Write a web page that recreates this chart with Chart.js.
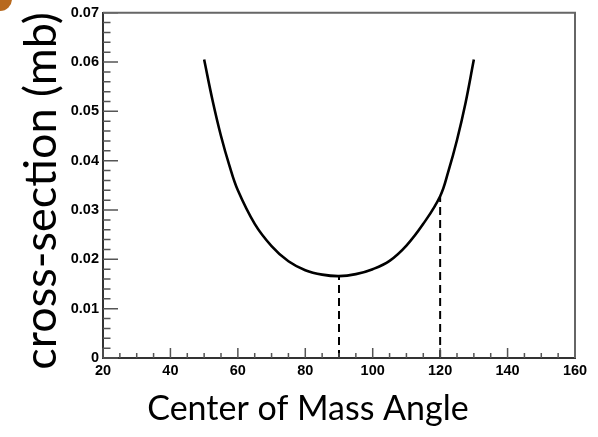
<!DOCTYPE html>
<html>
<head>
<meta charset="utf-8">
<script src="https://cdn.jsdelivr.net/npm/chart.js@4.4.0/dist/chart.umd.min.js"></script>
<style>
  body { margin: 0; background: #fff; }
  #wrap { position: relative; width: 598px; height: 437px; overflow: hidden; }
  #dot { position: absolute; left: -12px; top: -13px; width: 24px; height: 24px; border-radius: 50%; background: #b8691e; }
</style>
</head>
<body>
<div id="wrap">
  <canvas id="xsChart" width="598" height="437"></canvas>
  <div id="dot"></div>
</div>
<script>
// differential cross-section vs centre-of-mass angle
const angles = [50, 52.5, 55, 57.5, 60, 65, 70, 75, 80, 85, 90, 95, 100, 105, 110, 115, 120, 122.5, 125, 127.5, 130];
const crossSection = [0.0605, 0.0522, 0.0450, 0.0390, 0.0340, 0.0272, 0.0227, 0.0196, 0.0178, 0.0169, 0.0166,
                      0.0170, 0.0180, 0.0197, 0.0228, 0.0272, 0.0328, 0.0380, 0.0442, 0.0516, 0.0605];

// angles marked with a dashed drop line
const markAngles = [90, 120];
const markValues = [0.0166, 0.0328];

const xTickLabels = [20, 40, 60, 80, 100, 120, 140, 160];
const yTickLabels = [0, 0.01, 0.02, 0.03, 0.04, 0.05, 0.06, 0.07];

const isMajorX = v => xTickLabels.includes(v);
const isMajorY = v => yTickLabels.some(t => Math.abs(t - v) < 1e-6);

// inward tick marks, frame and axis titles
const frameTicks = {
    id: 'frameTicks',
    afterDraw(chart) {
        const c = chart.ctx;
        const a = chart.chartArea;
        const xs = chart.scales.x;
        const ys = chart.scales.y;
        c.save();
        c.strokeStyle = '#555';
        c.lineWidth = 1.5;
        c.beginPath();
        ys.ticks.forEach(t => {
            const py = ys.getPixelForValue(t.value);
            const len = isMajorY(t.value) ? 15 : 7.5;
            c.moveTo(a.left, py);
            c.lineTo(a.left + len, py);
        });
        xs.ticks.forEach(t => {
            const px = xs.getPixelForValue(t.value);
            const len = isMajorX(t.value) ? 10 : 5;
            c.moveTo(px, a.bottom);
            c.lineTo(px, a.bottom - len);
        });
        c.stroke();

        c.strokeStyle = '#666';
        c.lineWidth = 2;
        c.beginPath();
        c.moveTo(a.left, a.top);
        c.lineTo(a.right, a.top);
        c.lineTo(a.right, a.bottom);
        c.stroke();

        c.fillStyle = '#000';
        c.textAlign = 'center';
        c.textBaseline = 'alphabetic';
        c.font = '34px Lato';
        c.fillText('Center of Mass Angle', 308, 420);
        c.translate(56, 191);
        c.rotate(-Math.PI / 2);
        c.font = '45px Lato';
        c.fillText('cross-section (mb)', 0, 0);
        c.restore();
    }
};

const tickFont = { family: 'Liberation Sans', size: 14.5, weight: 'bold' };

new Chart(document.getElementById('xsChart'), {
    type: 'scatter',
    data: {
        datasets: [
            {
                data: angles.map((a, i) => ({ x: a, y: crossSection[i] })),
                showLine: true,
                borderColor: '#000',
                borderWidth: 2.6,
                pointRadius: 0,
                tension: 0.4
            },
            ...markAngles.map((a, i) => ({
                data: [{ x: a, y: 0 }, { x: a, y: markValues[i] }],
                showLine: true,
                borderColor: '#000',
                borderWidth: 2,
                borderDash: [8, 5],
                pointRadius: 0
            }))
        ]
    },
    options: {
        responsive: false,
        animation: false,
        layout: { padding: { top: 10, right: 23, left: 0, bottom: 0 } },
        plugins: { legend: { display: false }, tooltip: { enabled: false } },
        scales: {
            x: {
                type: 'linear',
                min: 20,
                max: 160,
                grid: { display: false, drawTicks: false },
                border: { display: true, color: '#333', width: 2 },
                afterFit: s => { s.height = 79; },
                ticks: {
                    stepSize: 5,
                    maxTicksLimit: 100,
                    autoSkip: false,
                    maxRotation: 0,
                    padding: 4,
                    color: '#000',
                    font: tickFont,
                    callback: v => isMajorX(v) ? String(v) : ''
                }
            },
            y: {
                min: 0,
                max: 0.07,
                grid: { display: false, drawTicks: false },
                border: { display: true, color: '#333', width: 2 },
                afterFit: s => { s.width = 103; },
                ticks: {
                    stepSize: 0.002,
                    maxTicksLimit: 100,
                    autoSkip: false,
                    padding: 4,
                    color: '#000',
                    font: tickFont,
                    callback: v => isMajorY(v) ? (v === 0 ? '0' : v.toFixed(2)) : ''
                }
            }
        }
    },
    plugins: [frameTicks]
});
</script>
</body>
</html>
